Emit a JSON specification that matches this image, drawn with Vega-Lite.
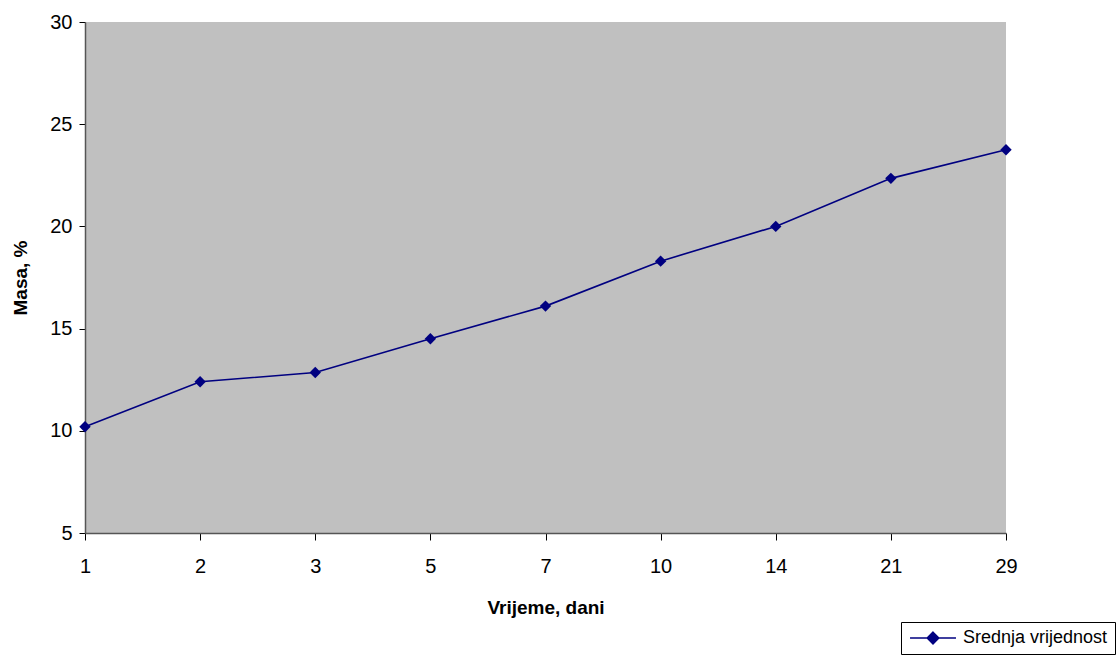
{
  "$schema": "https://vega.github.io/schema/vega-lite/v6.json",
  "width": 921,
  "height": 511,
  "autosize": {"type": "none"},
  "padding": {"left": 85, "top": 22, "right": 114, "bottom": 124},
  "background": "white",
  "config": {
    "font": "Liberation Sans",
    "view": {"fill": "#C0C0C0", "stroke": null}
  },
  "data": {
    "values": [
      {"day": "1", "masa": 10.2, "series": "Srednja vrijednost"},
      {"day": "2", "masa": 12.4, "series": "Srednja vrijednost"},
      {"day": "3", "masa": 12.85, "series": "Srednja vrijednost"},
      {"day": "5", "masa": 14.5, "series": "Srednja vrijednost"},
      {"day": "7", "masa": 16.1, "series": "Srednja vrijednost"},
      {"day": "10", "masa": 18.3, "series": "Srednja vrijednost"},
      {"day": "14", "masa": 20.0, "series": "Srednja vrijednost"},
      {"day": "21", "masa": 22.35, "series": "Srednja vrijednost"},
      {"day": "29", "masa": 23.75, "series": "Srednja vrijednost"}
    ]
  },
  "mark": {
    "type": "line",
    "strokeWidth": 1.6,
    "point": {"shape": "diamond", "filled": true, "size": 130, "opacity": 1}
  },
  "encoding": {
    "x": {
      "field": "day",
      "type": "ordinal",
      "sort": null,
      "scale": {"type": "point", "padding": 0},
      "axis": {
        "title": "Vrijeme, dani",
        "titleFont": "Liberation Sans",
        "titleFontSize": 19,
        "titleFontWeight": "bold",
        "titleColor": "black",
        "titlePadding": 22,
        "labelAngle": 0,
        "labelFontSize": 20,
        "labelColor": "black",
        "labelPadding": 16,
        "tickSize": 7,
        "tickColor": "black",
        "domainColor": "#555555",
        "domainWidth": 1.5,
        "grid": false
      }
    },
    "y": {
      "field": "masa",
      "type": "quantitative",
      "scale": {"domain": [5, 30], "nice": false, "zero": false},
      "axis": {
        "title": "Masa, %",
        "titleFont": "Liberation Sans",
        "titleFontSize": 19,
        "titleFontWeight": "bold",
        "titleColor": "black",
        "titlePadding": 19,
        "values": [5, 10, 15, 20, 25, 30],
        "labelFontSize": 20,
        "labelColor": "black",
        "labelPadding": 7,
        "tickSize": 6,
        "tickColor": "black",
        "domainColor": "#555555",
        "domainWidth": 1.5,
        "grid": false
      }
    },
    "color": {
      "field": "series",
      "type": "nominal",
      "scale": {"range": ["#000080"]},
      "legend": {
        "title": null,
        "orient": "none",
        "legendX": 816,
        "legendY": 600,
        "fillColor": "white",
        "strokeColor": "black",
        "padding": 7,
        "labelFontSize": 18,
        "labelColor": "black",
        "labelFont": "Liberation Sans",
        "symbolType": "M-4,0L4,0M0,-1L1,0L0,1L-1,0Z",
        "symbolSize": 132,
        "symbolStrokeWidth": 1.6,
        "symbolFillColor": "#000080",
        "symbolStrokeColor": "#000080",
        "symbolOpacity": 1,
        "symbolOffset": 16,
        "labelOffset": 21,
        "cornerRadius": 0
      }
    }
  }
}
